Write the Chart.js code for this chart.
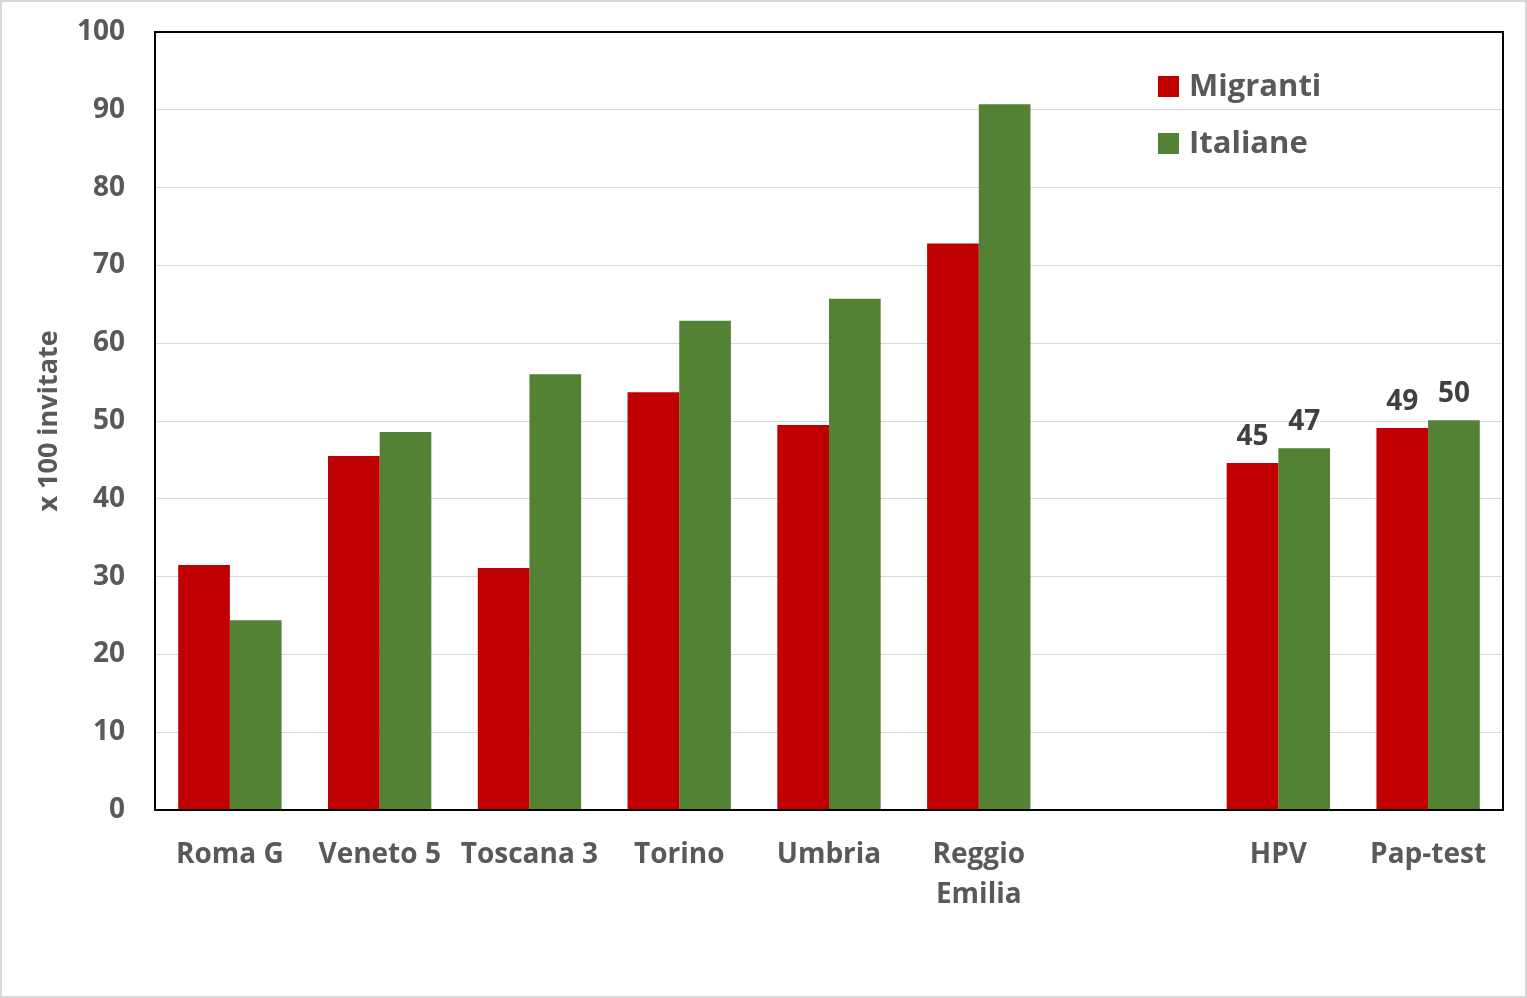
<!DOCTYPE html>
<html>
<head>
<meta charset="utf-8">
<script src="https://cdn.jsdelivr.net/npm/chart.js@4/dist/chart.umd.min.js"></script>
<style>
  html, body { margin: 0; padding: 0; background: #fff; }
  #wrap { width: 1527px; height: 998px; }
</style>
</head>
<body>
<div id="wrap"><canvas id="chart" width="1527" height="998"></canvas></div>
<script>
// Data
const categories = ["Roma G", "Veneto 5", "Toscana 3", "Torino", "Umbria", ["Reggio", "Emilia"], "", "HPV", "Pap-test"];
const migranti = [31.5, 45.5, 31.1, 53.7, 49.5, 72.8, null, 44.6, 49.1];
const italiane = [24.4, 48.6, 56.0, 62.9, 65.7, 90.7, null, 46.5, 50.1];
const shownLabels = [7, 8]; // only these categories carry value labels

const textGrey = "#595959";
const font = "'Open Sans', sans-serif";

// frame around plot + grey outer border
const framePlugin = {
  id: "frame",
  afterDatasetsDraw(chart) {
    const { ctx, chartArea: a } = chart;
    ctx.save();
    ctx.strokeStyle = "#000";
    ctx.lineWidth = 2;
    ctx.strokeRect(a.left, a.top, a.right - a.left, a.bottom - a.top);
    ctx.strokeStyle = "#d9d9d9";
    ctx.lineWidth = 2;
    ctx.strokeRect(1, 1, chart.width - 2, chart.height - 2);
    ctx.restore();
  }
};

// value labels on selected bars
const valueLabels = {
  id: "valueLabels",
  afterDatasetsDraw(chart) {
    const { ctx } = chart;
    ctx.save();
    ctx.font = "bold 28px " + font;
    ctx.fillStyle = "#404040";
    ctx.textAlign = "center";
    ctx.textBaseline = "middle";
    chart.data.datasets.forEach((ds, i) => {
      const meta = chart.getDatasetMeta(i);
      shownLabels.forEach(idx => {
        const bar = meta.data[idx];
        ctx.fillText(Math.round(ds.data[idx]), bar.x, bar.y - 26);
      });
    });
    ctx.restore();
  }
};

// legend inside plot, top right
const legendBox = {
  id: "legendBox",
  afterDatasetsDraw(chart) {
    const { ctx } = chart;
    ctx.save();
    ctx.font = "bold 31px " + font;
    ctx.textBaseline = "middle";
    ctx.textAlign = "left";
    chart.data.datasets.forEach((ds, i) => {
      const y = 86 + i * 57;
      ctx.fillStyle = ds.backgroundColor;
      ctx.fillRect(1158, y - 10, 21, 21);
      ctx.fillStyle = textGrey;
      ctx.fillText(ds.label, 1189, y + 1);
    });
    ctx.restore();
  }
};

const ctx = document.getElementById("chart").getContext("2d");
new Chart(ctx, {
  type: "bar",
  data: {
    labels: categories,
    datasets: [
      { label: "Migranti", data: migranti, backgroundColor: "#C00000" },
      { label: "Italiane", data: italiane, backgroundColor: "#548235" }
    ]
  },
  options: {
    responsive: false,
    animation: false,
    categoryPercentage: 0.69,
    barPercentage: 1,
    layout: { padding: { top: 32, right: 24, left: 0, bottom: 0 } },
    plugins: { legend: { display: false }, tooltip: { enabled: false } },
    scales: {
      x: {
        grid: { display: false, drawTicks: false },
        border: { display: false },
        ticks: {
          color: textGrey,
          padding: 25,
          maxRotation: 0,
          autoSkip: false,
          font: { family: font, size: 28, weight: "bold", lineHeight: 1.43 }
        },
        afterFit(scale) {
          scale.height = 188;
          scale.paddingLeft = 0;
          scale.paddingRight = 0;
        }
      },
      y: {
        min: 0,
        max: 100,
        grid: { color: "#d9d9d9", lineWidth: 1, drawTicks: false },
        border: { display: false },
        ticks: {
          stepSize: 10,
          color: textGrey,
          padding: 30,
          font: { family: font, size: 28, weight: "bold" }
        },
        title: {
          display: true,
          text: "x 100 invitate",
          color: textGrey,
          font: { family: font, size: 27, weight: "bold", lineHeight: 1.2 },
          padding: { top: 33, bottom: 0 }
        },
        afterFit(scale) {
          scale.width = 155;
          scale.paddingTop = 0;
          scale.paddingBottom = 0;
        }
      }
    }
  },
  plugins: [framePlugin, valueLabels, legendBox]
});
</script>
</body>
</html>
